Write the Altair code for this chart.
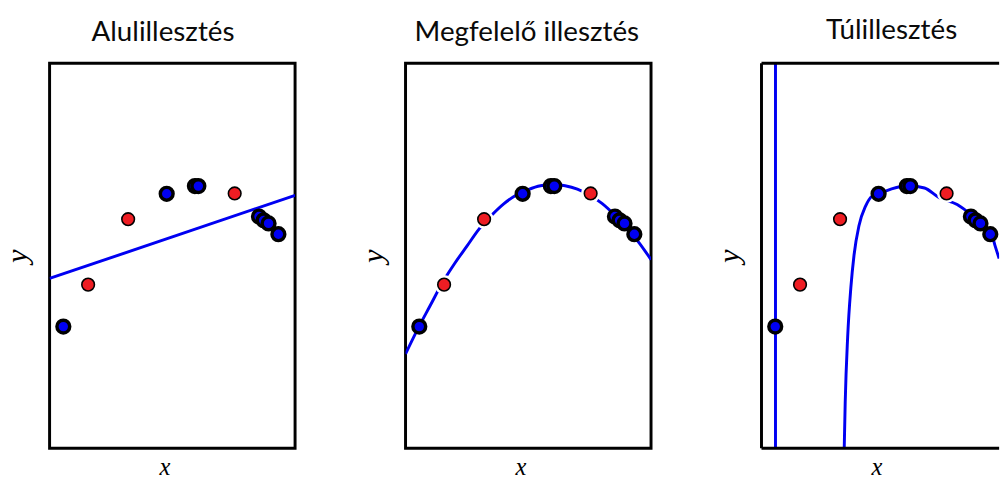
import altair as alt
import pandas as pd

panel_titles = ["Alulillesztés", "Megfelelő illesztés", "Túlillesztés"]

# training points (blue) and test points (red)
train_x = [0.056, 0.477, 0.592, 0.606, 0.853, 0.872, 0.892, 0.932]
train_y = [0.316, 0.661, 0.681, 0.681, 0.602, 0.592, 0.584, 0.556]
test_x = [0.157, 0.320, 0.754]
test_y = [0.425, 0.595, 0.662]

# underfit: straight line
under_x = [0.0, 1.0]
under_y = [0.441, 0.657]

# good fit: smooth arch
good_x = [0.0, 0.05, 0.1, 0.15, 0.2, 0.25, 0.3, 0.35, 0.4, 0.45, 0.5,
          0.55, 0.6, 0.65, 0.7, 0.75, 0.8, 0.85, 0.9, 0.95, 1.0]
good_y = [0.245, 0.31, 0.37, 0.43, 0.48, 0.525, 0.57, 0.605, 0.635, 0.657, 0.672,
          0.682, 0.685, 0.682, 0.673, 0.657, 0.636, 0.607, 0.573, 0.535, 0.49]

# overfit: vertical branch through the first point, then a steep rising branch
over1_x = [0.057, 0.057]
over1_y = [0.0, 1.0]
over2_x = [0.337, 0.341, 0.351, 0.364, 0.377, 0.397, 0.424, 0.451, 0.477, 0.530,
           0.597, 0.664, 0.724, 0.797, 0.851, 0.897, 0.937, 0.951, 0.968]
over2_y = [0.0, 0.119, 0.289, 0.417, 0.502, 0.578, 0.629, 0.655, 0.661, 0.674,
           0.682, 0.676, 0.651, 0.633, 0.608, 0.582, 0.557, 0.527, 0.493]

train = pd.DataFrame({"x": train_x, "y": train_y})
test = pd.DataFrame({"x": test_x, "y": test_y})

BLUE = "#0000f2"
RED = "#ee1d23"
H = 392


def panel(title, curves, width, xmax, title_dx, framed):
    xs = alt.Scale(domain=[0, xmax], nice=False, zero=False, padding=0)
    ys = alt.Scale(domain=[0, 1], nice=False, zero=False, padding=0)
    common = dict(labels=False, ticks=False, domain=False, grid=False,
                  titleFont="Liberation Serif", titleFontStyle="italic",
                  titleFontWeight="normal", titleColor="#000")
    X = alt.X("x:Q", scale=xs, axis=alt.Axis(title="x", titlePadding=7, titleX=117,
                                             titleFontSize=25, titleAlign="center", **common))
    Y = alt.Y("y:Q", scale=ys, axis=alt.Axis(title="y", titlePadding=16,
                                             titleFontSize=31, **common))
    layers = []
    for cx, cy, interp in curves:
        df = pd.DataFrame({"x": cx, "y": cy})
        layers.append(alt.Chart(df).mark_line(color=BLUE, strokeWidth=3, clip=True,
                                              interpolate=interp).encode(x=X, y=Y))
    layers.append(alt.Chart(test).mark_circle(size=380, color="white", opacity=1).encode(x=X, y=Y))
    layers.append(alt.Chart(test).mark_circle(size=165, fill=RED, stroke="black",
                                              strokeWidth=1.6, opacity=1).encode(x=X, y=Y))
    layers.append(alt.Chart(train).mark_circle(size=170, fill=BLUE, stroke="black",
                                               strokeWidth=3.5, opacity=1).encode(x=X, y=Y))
    ttl = alt.TitleParams(text=title, font="Lato", fontSize=28.3, fontWeight="normal",
                          color="#0a0a0a", offset=16.5, frame="group",
                          anchor="middle", dx=title_dx)
    if not framed:
        fdf = pd.DataFrame({"a": [0]})
        base = alt.Chart(fdf)
        rs = dict(color="black", strokeWidth=3)
        layers.append(base.mark_rule(**rs).encode(x=alt.value(0), x2=alt.value(width), y=alt.value(0)))
        layers.append(base.mark_rule(**rs).encode(x=alt.value(0), x2=alt.value(width), y=alt.value(H)))
        layers.append(base.mark_rule(**rs).encode(x=alt.value(0), y=alt.value(0), y2=alt.value(H)))
        return alt.layer(*layers).properties(width=width, height=H, title=ttl,
                                             view=alt.ViewBackground(stroke="transparent"))
    return alt.layer(*layers).properties(width=width, height=H, title=ttl)


p1 = panel(panel_titles[0], [(under_x, under_y, "linear")], 250, 1.0, -9.5, True)
p2 = panel(panel_titles[1], [(good_x, good_y, "monotone")], 250, 1.0, -1.5, True)
p3 = panel(panel_titles[2], [(over1_x, over1_y, "linear"), (over2_x, over2_y, "monotone")],
           242, 0.968, 11.5, False)

chart = alt.hconcat(p1, p2, p3, spacing=112.5, bounds="flush").properties(
    padding={"left": 0.5, "top": 11, "right": 0, "bottom": 0},
    background="white",
).configure_view(stroke="black", strokeWidth=3)

chart.save("out.html", embed_options={"renderer": "svg", "actions": False})
